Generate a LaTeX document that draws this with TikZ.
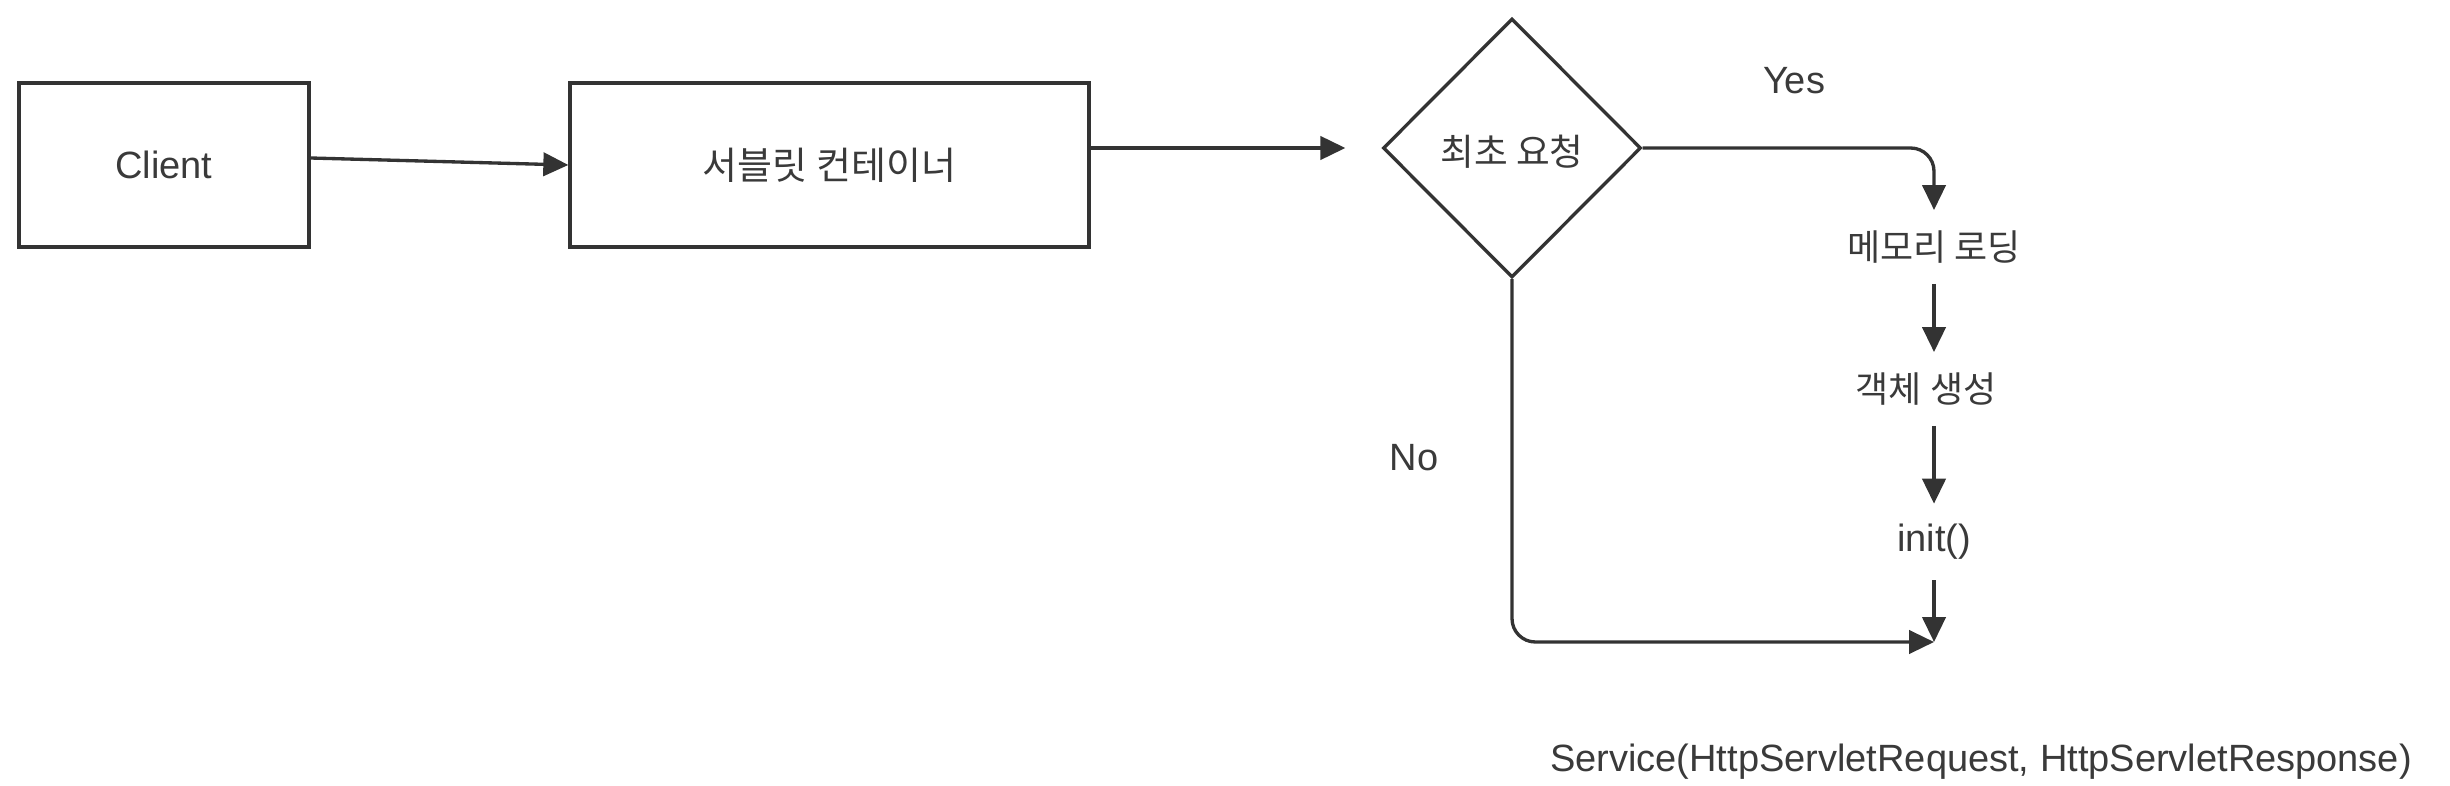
\documentclass[tikz,border=0pt]{standalone}
\usepackage{fontspec}
\setmainfont{Liberation Sans}
\newfontfamily\kr{Noto Sans CJK KR}
\usetikzlibrary{shapes.geometric,arrows.meta,positioning,calc}
\definecolor{ln}{HTML}{333333}
\definecolor{tx}{HTML}{3A3A3A}
\tikzset{
  box/.style={draw=ln, line width=1pt, rectangle, inner sep=0pt, font=\fontsize{11.4}{13.7}\selectfont, text=tx},
  decision/.style={draw=ln, line width=1pt, diamond, inner sep=0pt, minimum width=77.4pt, minimum height=77.7pt, font=\fontsize{11}{13}\selectfont\kr, text=tx},
  lbl/.style={inner sep=6pt, font=\fontsize{11.4}{13.7}\selectfont, text=tx},
  krlbl/.style={lbl, font=\fontsize{10.8}{13}\selectfont\kr},
  arr/.style={draw=ln, line width=1pt, -{Triangle[length=7.5pt,width=7pt]}},
}
\begin{document}
\begin{tikzpicture}[x=0.3pt, y=-0.3pt]
\useasboundingbox (0,0) rectangle (2450,786);
\node[box, minimum width=87pt, minimum height=49.2pt] (client) at (164,165) {Client};
\node[box, minimum width=155.7pt, minimum height=49.2pt] (container) at (829.5,165) {{\kr 서블릿 컨테이너}};
\node[decision] (diam) at (1512,148) {};
\node[font=\fontsize{11}{13}\selectfont\kr, text=tx, inner sep=0pt] (diamtxt) at (1512,152) {최초 요청};
\node[krlbl] (mem) at (1934,247) {메모리 로딩};
\node[krlbl] (obj) at (1926,389) {객체 생성};
\node[lbl] (init) at (1934,542) {init()};
\coordinate (J) at (1934,642);
\node[lbl] (service) at (1981,762) {Service(HttpServletRequest, HttpServletResponse)};
\node[lbl] (yes) at (1794,81) {Yes};
\node[lbl] (no) at (1414,458) {No};

\draw[arr] ([yshift=2.1pt]client.east) -- (container.west);
\draw[arr] (container.east |- diam.west) -- ([xshift=-10.8pt]diam.west);
\draw[arr, rounded corners=7pt] (diam.east) -| (mem.north);
\draw[arr] (mem.south) -- (mem.south |- obj.north);
\draw[arr] (mem.south |- obj.south) -- (init.north);
\draw[arr] (init.south) -- (J);
\draw[arr, rounded corners=7pt] (diam.south) |- (J);
\end{tikzpicture}
\end{document}
